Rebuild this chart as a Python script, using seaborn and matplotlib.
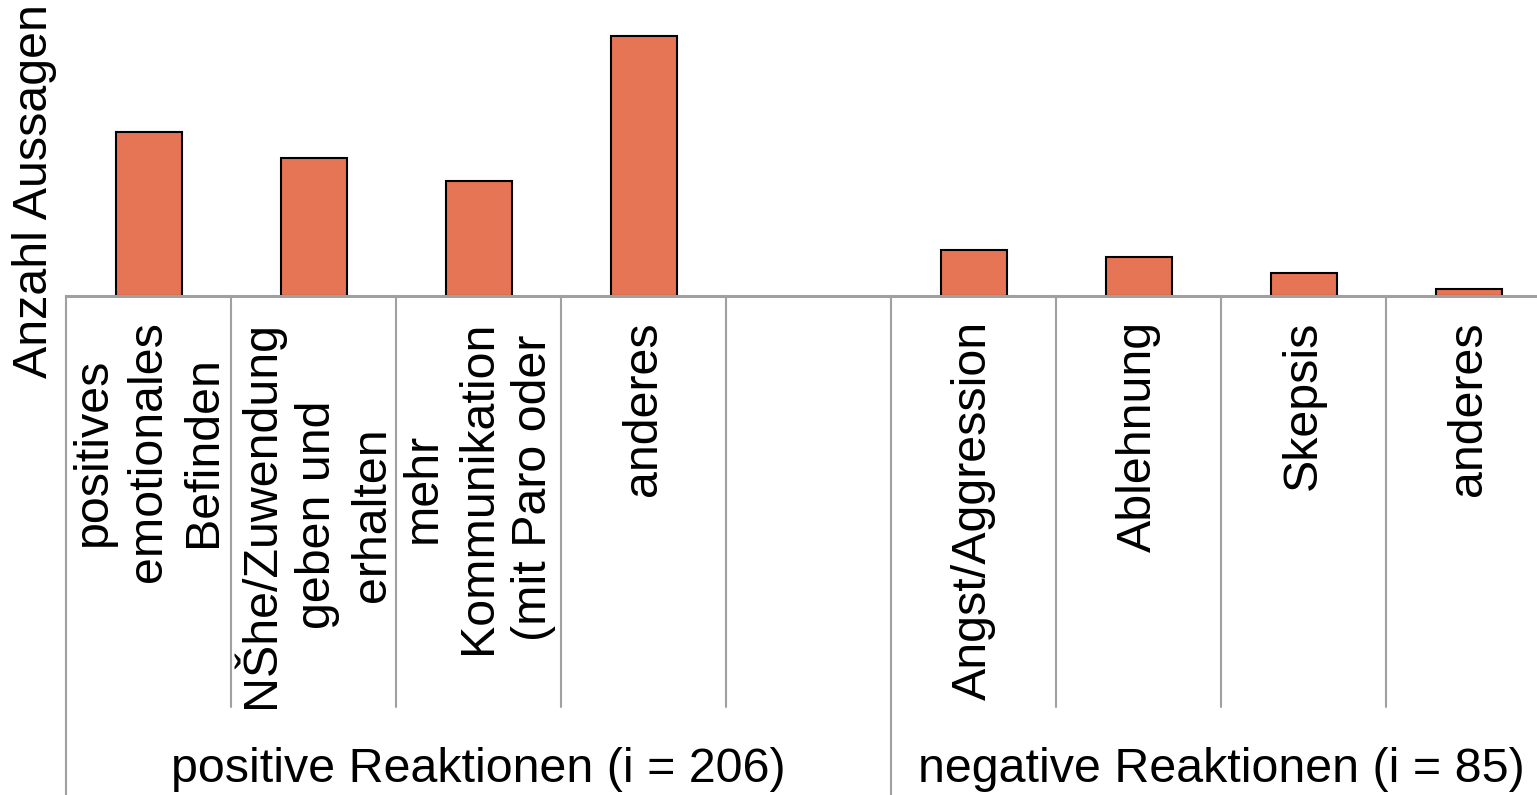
"""Bar chart of statements per reaction category (positive vs. negative)."""

import matplotlib.pyplot as plt
import matplotlib.transforms as mtransforms
import pandas as pd
import seaborn as sns

SLOTS = [0, 1, 2, 3, 5, 6, 7, 8]
VALUES = [50, 42, 35, 79, 14, 12, 7, 2]
TICK_LABELS = [
    "positives\nemotionales\nBefinden",
    "NŠhe/Zuwendung\ngeben und\nerhalten",
    "mehr\nKommunikation\n(mit Paro oder",
    "anderes",
    "",
    "Angst/Aggression",
    "Ablehnung",
    "Skepsis",
    "anderes",
]
GROUPS = [("positive Reaktionen (i = 206)", -0.5, 4.5),
          ("negative Reaktionen (i = 85)", 4.5, 8.5)]
BAR_COLOR = "#E67555"
LINE_COLOR = "#A0A0A0"
FS = 34.8

sns.set_theme(style="white")
plt.rcParams["font.family"] = ["Liberation Sans", "DejaVu Sans"]
plt.rcParams["text.color"] = "black"
plt.rcParams["axes.labelcolor"] = "black"
plt.rcParams["xtick.color"] = "black"

W, H = 1537, 795
fig = plt.figure(figsize=(W / 100, H / 100), dpi=100)
ax = fig.add_axes([66 / W, (H - 296) / H, 1485 / W, 296 / H])

df = pd.DataFrame({"slot": SLOTS, "value": VALUES})
sns.barplot(data=df, x="slot", y="value", order=list(range(9)), width=0.4,
            color=BAR_COLOR, saturation=1, edgecolor="black", linewidth=1.5, ax=ax)

ax.set_xlim(-0.5, 8.5)
ax.set_ylim(0, 90)
ax.set_yticks([])
ax.set_xticks(range(9))
ax.set_xticklabels(TICK_LABELS, rotation=90, fontsize=FS, linespacing=1.3,
                   multialignment="center", color="black")
ax.tick_params(axis="x", length=0, pad=18)
for side in ["left", "right", "top"]:
    ax.spines[side].set_visible(False)
ax.spines["bottom"].set_color(LINE_COLOR)
ax.spines["bottom"].set_linewidth(2.2)
ax.set_xlabel("")
ax.set_ylabel("Anzahl Aussagen", fontsize=FS, va="center", color="black")
ax.yaxis.set_label_coords((35 - 66) / 1485, (296 - 191) / 296)

trans = mtransforms.blended_transform_factory(ax.transData, ax.transAxes)
tick_depth = -(707 - 296) / 296
group_depth = -(795 - 296) / 296
for b in [0.5, 1.5, 2.5, 3.5, 5.5, 6.5, 7.5]:
    ax.plot([b, b], [0, tick_depth], color=LINE_COLOR, lw=1.5,
            transform=trans, clip_on=False)
for b in [-0.5, 4.5]:
    ax.plot([b, b], [0, group_depth], color=LINE_COLOR, lw=1.5,
            transform=trans, clip_on=False)
for label, lo, hi in GROUPS:
    ax.text((lo + hi) / 2, -(770 - 296) / 296, label, transform=trans,
            ha="center", va="center", fontsize=FS, color="black")

fig.savefig("out.png", dpi=100)
